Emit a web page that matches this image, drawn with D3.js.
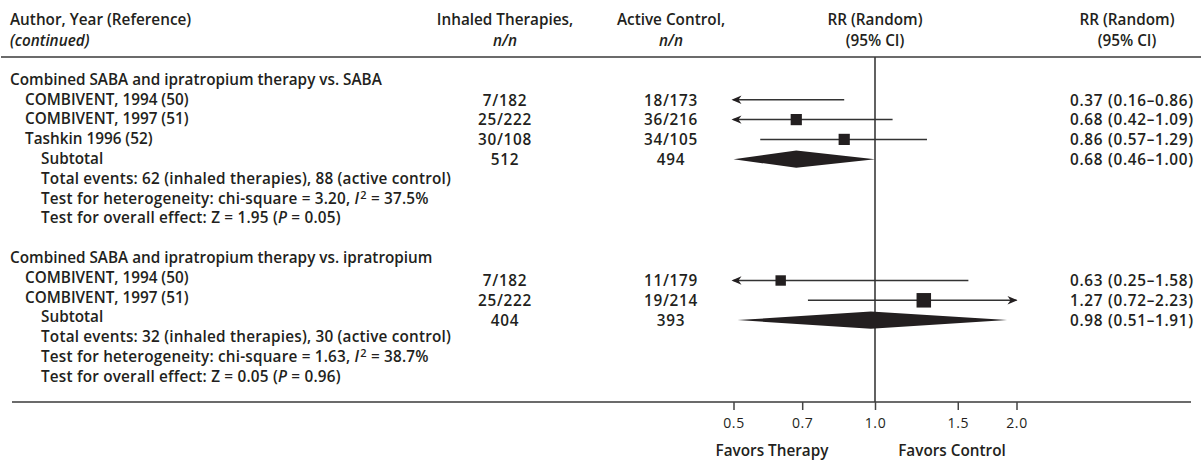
<!DOCTYPE html>
<html>
<head>
<meta charset="utf-8">
<script src="https://cdn.jsdelivr.net/npm/d3@7"></script>
<style>
  html, body { margin: 0; padding: 0; background: #fff; }
  svg text { font-family: "Open Sans", "Noto Sans", sans-serif; fill: #231f20; }
</style>
</head>
<body>
<svg id="chart" width="1201" height="464"></svg>
<script>
// ---- Data ----
const groupTitles = [
  "Combined SABA and ipratropium therapy vs. SABA",
  "Combined SABA and ipratropium therapy vs. ipratropium"
];
const studyGroup = [0, 0, 0, 1, 1];
const studyNames = [
  "COMBIVENT, 1994 (50)", "COMBIVENT, 1997 (51)", "Tashkin 1996 (52)",
  "COMBIVENT, 1994 (50)", "COMBIVENT, 1997 (51)"
];
const therapyEvents = [7, 25, 30, 7, 25];
const therapyTotals = [182, 222, 108, 182, 222];
const controlEvents = [18, 36, 34, 11, 19];
const controlTotals = [173, 216, 105, 179, 214];
const studyRR = [0.37, 0.68, 0.86, 0.63, 1.27];
const studyLow = [0.16, 0.42, 0.57, 0.25, 0.72];
const studyHigh = [0.86, 1.09, 1.29, 1.58, 2.23];
const studyWeight = [26, 37, 37, 32, 62];   // relative weight (%), sets square size

const subTherapyN = [512, 404];
const subControlN = [494, 393];
const subRR = [0.68, 0.98];
const subLow = [0.46, 0.51];
const subHigh = [1.00, 1.91];
const subTherapyEvents = [62, 32];
const subControlEvents = [88, 30];
const chiSquare = ["3.20", "1.63"];
const iSquared = ["37.5", "38.7"];
const zValues = ["1.95", "0.05"];
const pValues = ["0.05", "0.96"];

const tickValues = [0.5, 0.7, 1.0, 1.5, 2.0];
const tickLabels = ["0.5", "0.7", "1.0", "1.5", "2.0"];

// ---- Layout ----
const W = 1201, H = 464;
const svg = d3.select("#chart");
const ink = "#231f20";
const ruleColor = "#6b6b6b";
const fs = 15.3;
const numSpacing = 0.7;   // extra tracking for numeric columns

const x = d3.scaleLog().domain([0.5, 2.0]).range([733.5, 1016.5]);
const xc = v => x(Math.max(0.5, Math.min(2.0, v)));

// row index -> vertical centre of that row
const rowY = d3.scaleLinear().domain([0, 1]).range([79.2, 99.0]);
// the value columns and marks sit slightly lower than the label column
const valueShift = [1.0, 3.5];

const colName = 10, colStudy = 25, colSub = 41;
const colTherapy = 505, colControl = 671, colCI = 1070;
const axisY = 402, topRuleY = 57;
const head1 = 19.5, head2 = 40.5;

// row assignment
const groupStartRow = [0, 9];
const studyRow = [];
{
  const count = [0, 0];
  studyGroup.forEach(g => { count[g] += 1; studyRow.push(groupStartRow[g] + count[g]); });
}
const subRow = groupStartRow.map((s, g) => s + studyGroup.filter(d => d === g).length + 1);

function txt(xp, yc, s, opts = {}) {
  return svg.append("text")
    .attr("x", xp).attr("y", yc).attr("dy", "0.36em")
    .attr("font-size", opts.size || fs)
    .attr("font-weight", opts.weight || 600)
    .attr("font-style", opts.italic ? "italic" : null)
    .attr("letter-spacing", opts.num ? numSpacing : (opts.track || null))
    .attr("text-anchor", opts.anchor || "start")
    .text(s);
}

// ---- Header ----
txt(colName, head1, "Author, Year (Reference)");
txt(colName, head2, "(continued)", { italic: true });
txt(colTherapy, head1, "Inhaled Therapies,", { anchor: "middle" });
txt(colTherapy, head2, "n/n", { anchor: "middle", italic: true });
txt(colControl, head1, "Active Control,", { anchor: "middle" });
txt(colControl, head2, "n/n", { anchor: "middle", italic: true });
txt(x(1), head1, "RR (Random)", { anchor: "middle" });
txt(x(1), head2, "(95% CI)", { anchor: "middle" });
txt(1127, head1, "RR (Random)", { anchor: "middle" });
txt(1127, head2, "(95% CI)", { anchor: "middle" });

// rules
svg.append("line").attr("x1", 1).attr("x2", W).attr("y1", topRuleY).attr("y2", topRuleY)
  .attr("stroke", ruleColor).attr("stroke-width", 2.2);
svg.append("line").attr("x1", 12).attr("x2", 1191).attr("y1", axisY).attr("y2", axisY)
  .attr("stroke", ruleColor).attr("stroke-width", 2.2);

// line of no effect
svg.append("line").attr("x1", x(1)).attr("x2", x(1)).attr("y1", topRuleY).attr("y2", axisY)
  .attr("stroke", "#3a3a3a").attr("stroke-width", 1.6);

// ---- Group titles and summary text ----
const ciText = (r, l, h) => `${r.toFixed(2)} (${l.toFixed(2)}\u2013${h.toFixed(2)})`;

groupTitles.forEach((t, g) => {
  txt(colName, rowY(groupStartRow[g]), t);
  const sr = subRow[g], yv = rowY(sr) + valueShift[g];
  txt(colSub, rowY(sr), "Subtotal");
  txt(colTherapy, yv, subTherapyN[g], { anchor: "middle", num: true });
  txt(colControl, yv, subControlN[g], { anchor: "middle", num: true });
  txt(colCI, yv, ciText(subRR[g], subLow[g], subHigh[g]), { num: true });
  txt(colSub, rowY(sr + 1), `Total events: ${subTherapyEvents[g]} (inhaled therapies), ${subControlEvents[g]} (active control)`, { track: 0.2 });

  const het = txt(colSub, rowY(sr + 2), null, { track: 0.2 });
  het.append("tspan").text(`Test for heterogeneity: chi-square = ${chiSquare[g]}, `);
  het.append("tspan").attr("font-style", "italic").text("I");
  het.append("tspan").attr("font-size", 11).attr("dx", 1).attr("dy", -5).text("2");
  het.append("tspan").attr("dy", 5).text(` = ${iSquared[g]}%`);

  const ov = txt(colSub, rowY(sr + 3), null, { track: 0.2 });
  ov.append("tspan").text(`Test for overall effect: Z = ${zValues[g]} (`);
  ov.append("tspan").attr("font-style", "italic").text("P");
  ov.append("tspan").text(` = ${pValues[g]})`);

  // pooled diamond
  const yd = yv - 0.2, hd = 8.6;
  svg.append("path")
    .attr("d", `M${xc(subLow[g])},${yd} L${xc(subRR[g])},${yd - hd} L${xc(subHigh[g])},${yd} L${xc(subRR[g])},${yd + hd} Z`)
    .attr("fill", ink);
});

// ---- Studies ----
const sq = d3.scaleSqrt().domain([0, 62]).range([0, 14.5]);

function arrowHead(tipX, y, dir) {
  // dir = -1 points left, +1 points right
  const b = tipX - dir * 10, n = tipX - dir * 7;
  return `M${tipX},${y} L${b},${y - 4.2} L${n},${y} L${b},${y + 4.2} Z`;
}

studyNames.forEach((name, i) => {
  const r = studyRow[i], yc = rowY(r), yv = yc + valueShift[studyGroup[i]], ym = yv - 0.2;
  txt(colStudy, yc, name);
  txt(colTherapy, yv, `${therapyEvents[i]}/${therapyTotals[i]}`, { anchor: "middle", num: true });
  txt(colControl, yv, `${controlEvents[i]}/${controlTotals[i]}`, { anchor: "middle", num: true });
  txt(colCI, yv, ciText(studyRR[i], studyLow[i], studyHigh[i]), { num: true });

  svg.append("line")
    .attr("x1", xc(studyLow[i])).attr("x2", xc(studyHigh[i]))
    .attr("y1", ym).attr("y2", ym)
    .attr("stroke", "#333").attr("stroke-width", 1.5);
  if (studyLow[i] < 0.5) svg.append("path").attr("d", arrowHead(x(0.5) - 2, ym, -1)).attr("fill", ink);
  if (studyHigh[i] > 2.0) svg.append("path").attr("d", arrowHead(x(2.0) + 1, ym, 1)).attr("fill", ink);

  if (studyRR[i] >= 0.5 && studyRR[i] <= 2.0) {
    const s = sq(studyWeight[i]);
    svg.append("rect")
      .attr("x", x(studyRR[i]) - s / 2).attr("y", ym - s / 2)
      .attr("width", s).attr("height", s).attr("fill", ink);
  }
});

// ---- Axis ----
const axis = d3.axisBottom(x).tickValues(tickValues)
  .tickFormat((d, i) => tickLabels[i]).tickSize(8).tickPadding(8);
const gA = svg.append("g").attr("transform", `translate(0,${axisY})`).call(axis);
gA.select(".domain").remove();
gA.selectAll(".tick line").attr("stroke", "#444").attr("stroke-width", 1.5);
gA.selectAll(".tick text")
  .attr("font-family", "'Open Sans', 'Noto Sans', sans-serif")
  .attr("font-size", 14).attr("font-weight", 400).attr("fill", "#3a3a3a")
  .attr("letter-spacing", 0.6);

txt(772, 450.5, "Favors Therapy", { anchor: "middle" });
txt(952, 450.5, "Favors Control", { anchor: "middle" });
</script>
</body>
</html>
